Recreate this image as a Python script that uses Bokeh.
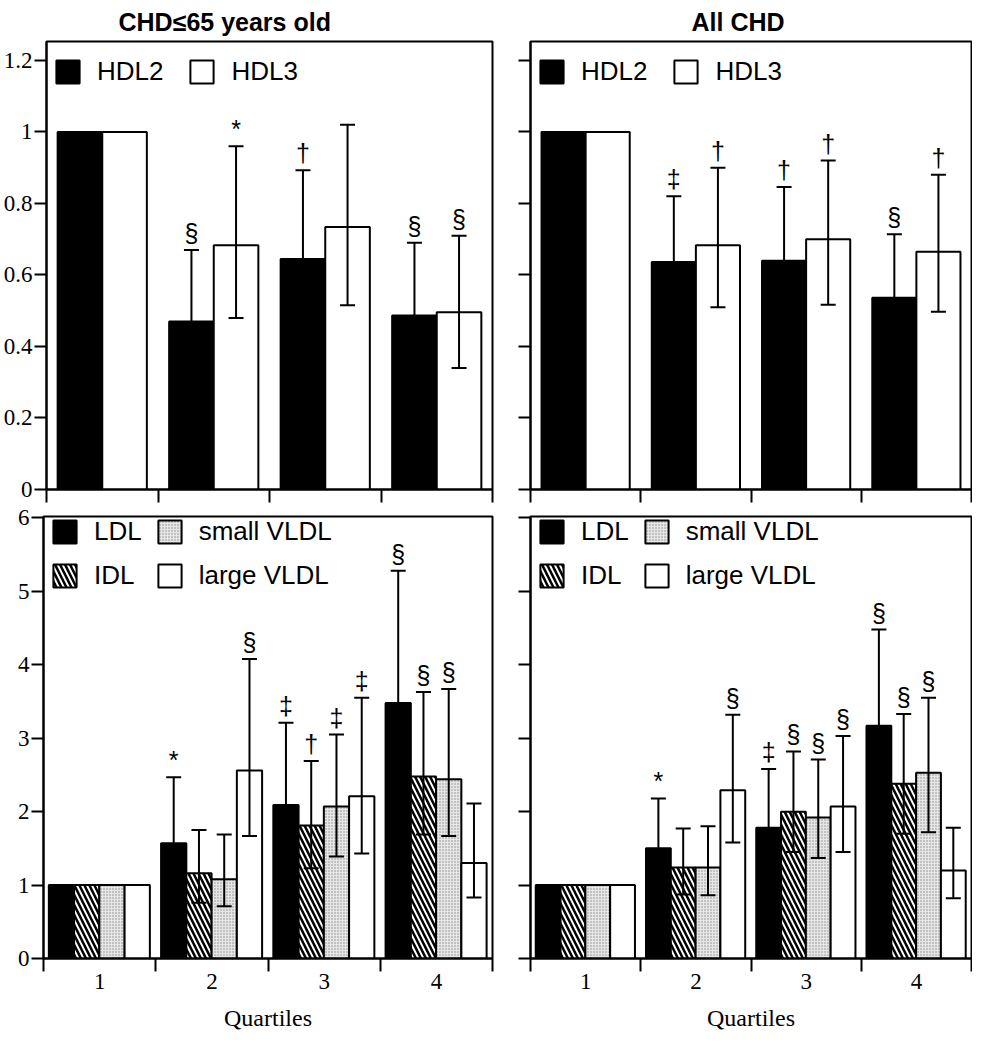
import math
from bokeh.plotting import figure
from bokeh.layouts import column, row
from bokeh.models import (ColumnDataSource, Whisker, TeeHead, FixedTicker, Legend,
                          LegendItem, Range1d)
from bokeh.core.properties import value
from bokeh.embed import file_html
from bokeh.resources import INLINE

# ---------------- data ----------------
quartiles = [1, 2, 3, 4]
quartile_labels = ["1", "2", "3", "4"]
hdl_tick_labels = ["0", "0.2", "0.4", "0.6", "0.8", "1", "1.2"]
ldl_tick_labels = ["0", "1", "2", "3", "4", "5", "6"]
panel_titles = ["CHD\u226465 years old", "All CHD"]
hdl_names = ["HDL2", "HDL3"]
ldl_names = ["LDL", "IDL", "small VLDL", "large VLDL"]

# CHD <= 65 years old : HDL subclasses
young_hdl2 = [1.0, 0.47, 0.645, 0.487]
young_hdl2_lo = [None, 0.33, 0.45, 0.34]
young_hdl2_hi = [None, 0.67, 0.893, 0.69]
young_hdl2_sig = ["", "§", "†", "§"]
young_hdl3 = [1.0, 0.683, 0.734, 0.496]
young_hdl3_lo = [None, 0.48, 0.515, 0.34]
young_hdl3_hi = [None, 0.96, 1.02, 0.71]
young_hdl3_sig = ["", "*", "", "§"]

# All CHD : HDL subclasses
all_hdl2 = [1.0, 0.636, 0.64, 0.536]
all_hdl2_lo = [None, 0.49, 0.49, 0.40]
all_hdl2_hi = [None, 0.82, 0.846, 0.714]
all_hdl2_sig = ["", "‡", "†", "§"]
all_hdl3 = [1.0, 0.683, 0.70, 0.665]
all_hdl3_lo = [None, 0.51, 0.517, 0.497]
all_hdl3_hi = [None, 0.90, 0.92, 0.88]
all_hdl3_sig = ["", "†", "†", "†"]

# CHD <= 65 years old : LDL / IDL / VLDL
young_ldl = [1.0, 1.57, 2.09, 3.48]
young_ldl_lo = [None, 1.0, 1.36, 2.3]
young_ldl_hi = [None, 2.47, 3.21, 5.28]
young_ldl_sig = ["", "*", "‡", "§"]
young_idl = [1.0, 1.16, 1.81, 2.48]
young_idl_lo = [None, 0.76, 1.23, 1.69]
young_idl_hi = [None, 1.75, 2.69, 3.63]
young_idl_sig = ["", "", "†", "§"]
young_svldl = [1.0, 1.08, 2.07, 2.44]
young_svldl_lo = [None, 0.71, 1.39, 1.67]
young_svldl_hi = [None, 1.69, 3.05, 3.67]
young_svldl_sig = ["", "", "‡", "§"]
young_lvldl = [1.0, 2.56, 2.21, 1.30]
young_lvldl_lo = [None, 1.67, 1.43, 0.83]
young_lvldl_hi = [None, 4.08, 3.55, 2.11]
young_lvldl_sig = ["", "§", "‡", ""]

# All CHD : LDL / IDL / VLDL
all_ldl = [1.0, 1.50, 1.78, 3.17]
all_ldl_lo = [None, 1.0, 1.2, 2.2]
all_ldl_hi = [None, 2.18, 2.58, 4.48]
all_ldl_sig = ["", "*", "‡", "§"]
all_idl = [1.0, 1.24, 2.0, 2.38]
all_idl_lo = [None, 0.87, 1.45, 1.70]
all_idl_hi = [None, 1.77, 2.82, 3.33]
all_idl_sig = ["", "", "§", "§"]
all_svldl = [1.0, 1.24, 1.92, 2.53]
all_svldl_lo = [None, 0.86, 1.37, 1.72]
all_svldl_hi = [None, 1.80, 2.71, 3.55]
all_svldl_sig = ["", "", "§", "§"]
all_lvldl = [1.0, 2.29, 2.07, 1.20]
all_lvldl_lo = [None, 1.58, 1.45, 0.82]
all_lvldl_hi = [None, 3.32, 3.03, 1.78]
all_lvldl_sig = ["", "§", "§", ""]

# ---------------- styles ----------------
SANS = "Liberation Sans"
SERIF = "Liberation Serif"
STYLE_BLACK = dict(fill_color="black")
STYLE_WHITE = dict(fill_color="white")
STYLE_HATCH = dict(fill_color="white", hatch_pattern="\\", hatch_color="black",
                   hatch_scale=10, hatch_weight=2.5)
STYLE_DOTS = dict(fill_color="#e6e6e6", hatch_pattern=".", hatch_color="#8c8c8c",
                  hatch_scale=3, hatch_weight=1)


def make_panel(series, names, styles, offsets, bar_w, ymax, tick_labels,
               title, title_offset, show_ylabels, show_xlabels, width, height,
               borders, legend_loc, legend_opts):
    bl, br, bt, bb = borders
    p = figure(width=width, height=height, x_range=Range1d(0.5, 4.5),
               y_range=Range1d(0, ymax), output_backend="svg",
               toolbar_location=None, min_border_left=bl, min_border_right=br,
               min_border_top=bt, min_border_bottom=bb)
    p.xgrid.visible = False
    p.ygrid.visible = False
    p.outline_line_color = "black"
    p.outline_line_width = 2
    p.background_fill_color = "white"
    p.border_fill_color = "white"

    items = []
    for (vals, lo, hi, sig), name, st, off in zip(series, names, styles, offsets):
        xs = [q + off for q in quartiles]
        src = ColumnDataSource(dict(x=xs, top=vals))
        r = p.vbar(x="x", top="top", width=bar_w, bottom=0, source=src,
                   line_color="black", line_width=2, **st)
        items.append(LegendItem(label=name, renderers=[r]))
        idx = [i for i in range(len(vals)) if hi[i] is not None]
        wsrc = ColumnDataSource(dict(x=[xs[i] for i in idx],
                                     lo=[lo[i] for i in idx],
                                     hi=[hi[i] for i in idx]))
        w = Whisker(source=wsrc, base="x", lower="lo", upper="hi",
                    dimension="height", line_color="black", line_width=2,
                    upper_head=TeeHead(size=15, line_color="black", line_width=2),
                    lower_head=TeeHead(size=15, line_color="black", line_width=2),
                    level="overlay")
        p.add_layout(w)
        sidx = [i for i in range(len(vals)) if sig[i]]
        ssrc = ColumnDataSource(dict(x=[xs[i] for i in sidx],
                                     y=[hi[i] for i in sidx],
                                     t=[sig[i] for i in sidx]))
        p.text(x="x", y="y", text="t", source=ssrc, text_align="center",
               text_baseline="bottom", y_offset=-3,
               text_font=value(SANS), text_font_size="25px", text_color="black")

    # axes
    ytick_vals = [float(s) for s in tick_labels]
    p.yaxis.ticker = FixedTicker(ticks=ytick_vals)
    if show_ylabels:
        p.yaxis.major_label_overrides = {v: s for v, s in zip(ytick_vals, tick_labels)}
    else:
        p.yaxis.major_label_overrides = {v: "" for v in ytick_vals}
    p.yaxis.major_tick_out = 12
    p.yaxis.major_tick_in = 0
    p.yaxis.minor_tick_out = 0
    p.yaxis.minor_tick_in = 0
    p.yaxis.major_tick_line_width = 2
    p.yaxis.axis_line_width = 2
    p.yaxis.major_label_standoff = 2
    p.yaxis.major_label_text_font = SERIF
    p.yaxis.major_label_text_font_size = "23px"
    p.yaxis.major_label_text_color = "black"

    bounds = [q - 0.5 for q in quartiles] + [quartiles[-1] + 0.5]
    p.xaxis.ticker = FixedTicker(ticks=quartiles, minor_ticks=bounds)
    p.xaxis.major_tick_out = 0
    p.xaxis.major_tick_in = 0
    p.xaxis.minor_tick_out = 13
    p.xaxis.minor_tick_in = 0
    p.xaxis.minor_tick_line_width = 2
    p.xaxis.axis_line_width = 2
    if show_xlabels:
        p.xaxis.major_label_overrides = {q: s for q, s in zip(quartiles, quartile_labels)}
        p.xaxis.major_label_text_font = SERIF
        p.xaxis.major_label_text_font_size = "23px"
        p.xaxis.major_label_text_color = "black"
        p.xaxis.major_label_standoff = 2
        p.xaxis.axis_label = "Quartiles"
        p.xaxis.axis_label_text_font = SERIF
        p.xaxis.axis_label_text_font_size = "24px"
        p.xaxis.axis_label_text_font_style = "normal"
        p.xaxis.axis_label_text_color = "black"
        p.xaxis.axis_label_standoff = 13
    else:
        p.xaxis.major_label_overrides = {q: "" for q in quartiles}
        p.xaxis.major_label_text_font_size = "0px"
        p.xaxis.major_label_standoff = 0

    if title:
        p.title.text = title
        p.title.align = "left"
        p.title.offset = title_offset
        p.title.text_font = SANS
        p.title.text_font_size = "25px"
        p.title.text_font_style = "bold"
        p.title.text_color = "black"
        p.title.standoff = 11

    lg = Legend(items=items, location=legend_loc, glyph_width=29, glyph_height=29,
                label_text_font=SANS, label_text_font_size="26px",
                label_text_color="black",
                label_standoff=15, padding=0, margin=0,
                border_line_alpha=0, background_fill_alpha=0, **legend_opts)
    p.add_layout(lg)
    return p


hdl_styles = [STYLE_BLACK, STYLE_WHITE]
hdl_offsets = [-0.2, 0.2]
ldl_styles = [STYLE_BLACK, STYLE_HATCH, STYLE_DOTS, STYLE_WHITE]
ldl_offsets = [-0.34, -0.115, 0.11, 0.335]

young_hdl = [(young_hdl2, young_hdl2_lo, young_hdl2_hi, young_hdl2_sig),
             (young_hdl3, young_hdl3_lo, young_hdl3_hi, young_hdl3_sig)]
all_hdl = [(all_hdl2, all_hdl2_lo, all_hdl2_hi, all_hdl2_sig),
           (all_hdl3, all_hdl3_lo, all_hdl3_hi, all_hdl3_sig)]
young_ldlset = [(young_ldl, young_ldl_lo, young_ldl_hi, young_ldl_sig),
                (young_idl, young_idl_lo, young_idl_hi, young_idl_sig),
                (young_svldl, young_svldl_lo, young_svldl_hi, young_svldl_sig),
                (young_lvldl, young_lvldl_lo, young_lvldl_hi, young_lvldl_sig)]
all_ldlset = [(all_ldl, all_ldl_lo, all_ldl_hi, all_ldl_sig),
              (all_idl, all_idl_lo, all_idl_hi, all_idl_sig),
              (all_svldl, all_svldl_lo, all_svldl_hi, all_svldl_sig),
              (all_lvldl, all_lvldl_lo, all_lvldl_hi, all_lvldl_sig)]

hdl_leg = dict(orientation="horizontal", spacing=24)
ldl_leg = dict(orientation="vertical", ncols=2, spacing=13)

tl = make_panel(young_hdl, hdl_names, hdl_styles, hdl_offsets, 0.40, 1.253,
                hdl_tick_labels, panel_titles[0], 72, True, False,
                502, 503, (43, 10, 41, 14), (7, 402), hdl_leg)
tr = make_panel(all_hdl, hdl_names, hdl_styles, hdl_offsets, 0.40, 1.253,
                hdl_tick_labels, panel_titles[1], 161, False, False,
                470, 503, (28, 1, 41, 14), (7, 402), hdl_leg)
bl = make_panel(young_ldlset, ldl_names, ldl_styles, ldl_offsets, 0.225, 6.02,
                ldl_tick_labels, None, 0, True, True,
                502, 530, (43, 10, 13, 66), (7, 367), ldl_leg)
br = make_panel(all_ldlset, ldl_names, ldl_styles, ldl_offsets, 0.225, 6.02,
                ldl_tick_labels, None, 0, False, True,
                470, 530, (28, 1, 13, 66), (7, 367), ldl_leg)

layout = column(row(tl, tr), row(bl, br))
open("out.html", "w").write(file_html(layout, INLINE))
